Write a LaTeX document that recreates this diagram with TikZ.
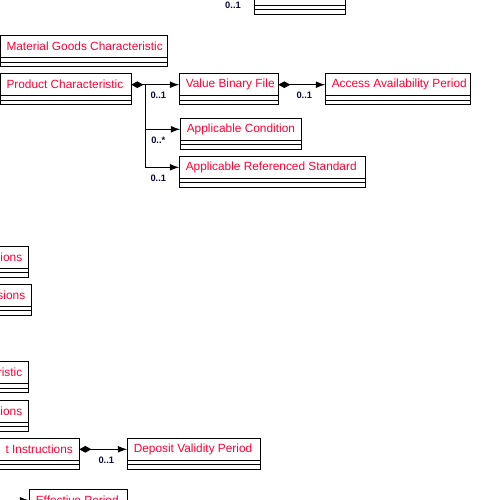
\documentclass[tikz,border=0pt]{standalone}
\usepackage{fontspec}
\newfontfamily\umlfont{Liberation Sans}
\usetikzlibrary{arrows.meta}

\definecolor{umlred}{RGB}{255,0,51}
\definecolor{multblue}{RGB}{10,10,60}

% class box: name compartment plus two empty compartments
% #1 align (l/r), #2 name, #3 left x, #4 top y, #5 right x, #6 text
\newcommand{\classbox}[6][l]{%
  \pgfmathsetmacro{\boxw}{#5-#3}
  \pgfmathsetmacro{\textw}{(#5-#3-13)*0.75}
  \node[classname, minimum width=\boxw*0.75pt, anchor=north west] (#2) at (#3,#4)
    {\makebox[\textw pt][#1]{#6}};
  \draw[classline] (#2.south west) rectangle ++(\boxw,4.4) ++(-\boxw,0) rectangle ++(\boxw,4.4);
}

\begin{document}
\begin{tikzpicture}[x=0.75pt, y=-0.75pt,
    classname/.style={draw, line width=0.75pt, minimum height=16.5pt,
      inner xsep=4.875pt, inner ysep=0pt, outer sep=0pt, text=umlred,
      font=\umlfont\fontsize{8.9}{10}\selectfont},
    classline/.style={line width=0.75pt},
    compose/.style={line width=0.75pt,
      {Diamond[length=9pt,width=5pt]}-{Latex[length=7pt,width=5pt]}},
    nav/.style={line width=0.75pt, -{Latex[length=7pt,width=5pt]}},
    mult/.style={text=multblue, inner sep=0pt,
      font=\umlfont\bfseries\fontsize{7}{8}\selectfont}
  ]
  \clip (0,0) rectangle (500,500);

  % top class, mostly out of view
  \classbox{topcls}{254}{-16.7}{345}{}
  \node[mult] (mtop) at ([shift={(-21,11)}]topcls.west) {0..1};

  % material goods
  \classbox{matgoods}{0}{35.7}{167}{Material Goods Characteristic}

  % product characteristic and its parts
  \classbox{prodchar}{0}{73.7}{131.3}{Product Characteristic}
  \classbox{valbin}{179.3}{73.7}{278.3}{Value Binary File}
  \classbox{access}{325.3}{73.7}{470.3}{Access Availability Period}
  \classbox{appcond}{180.3}{118.3}{301.3}{Applicable Condition}
  \classbox{appstd}{179.3}{156.3}{365.3}{Applicable Referenced Standard}

  \coordinate (prodbus) at (145.3,0 |- prodchar.east);
  \draw[compose] (prodchar.east) -- (valbin.west);
  \draw[nav] (prodbus) |- (appcond.west);
  \draw[nav] (prodbus) |- (appstd.west);
  \draw[compose] (valbin.east) -- (access.west);

  \node[mult] (mvalbin) at ([shift={(-21,11)}]valbin.west) {0..1};
  \node[mult] (maccess) at ([shift={(-21,11)}]access.west) {0..1};
  \node[mult] (mappcond) at ([shift={(-22,11)}]appcond.west) {0..*};
  \node[mult] (mappstd) at ([shift={(-21,11)}]appstd.west) {0..1};

  % classes cut off at the left edge
  \classbox[r]{dimsa}{-80}{246.3}{28.7}{sions}
  \classbox[r]{dimsb}{-80}{284.3}{31.7}{sions}
  \classbox[r]{charc}{-80}{361.7}{28.7}{ristic}
  \classbox[r]{condc}{-80}{400.5}{28.7}{tions}
  \classbox[r]{depinst}{-80}{438.3}{79.3}{t Instructions}

  % deposit validity
  \classbox{depvalid}{127.3}{438.3}{260.3}{Deposit Validity Period}
  \draw[compose] (depinst.east) -- (depvalid.west);
  \node[mult] (mdepvalid) at ([shift={(-21,11)}]depvalid.west) {0..1};

  % effective period, at the bottom edge
  \classbox{effper}{29.3}{489.3}{127.7}{Effective Period}
  \coordinate (effin) at (0,0 |- effper.west);
  \draw[nav] (effin) -- (effper.west);
\end{tikzpicture}
\end{document}
